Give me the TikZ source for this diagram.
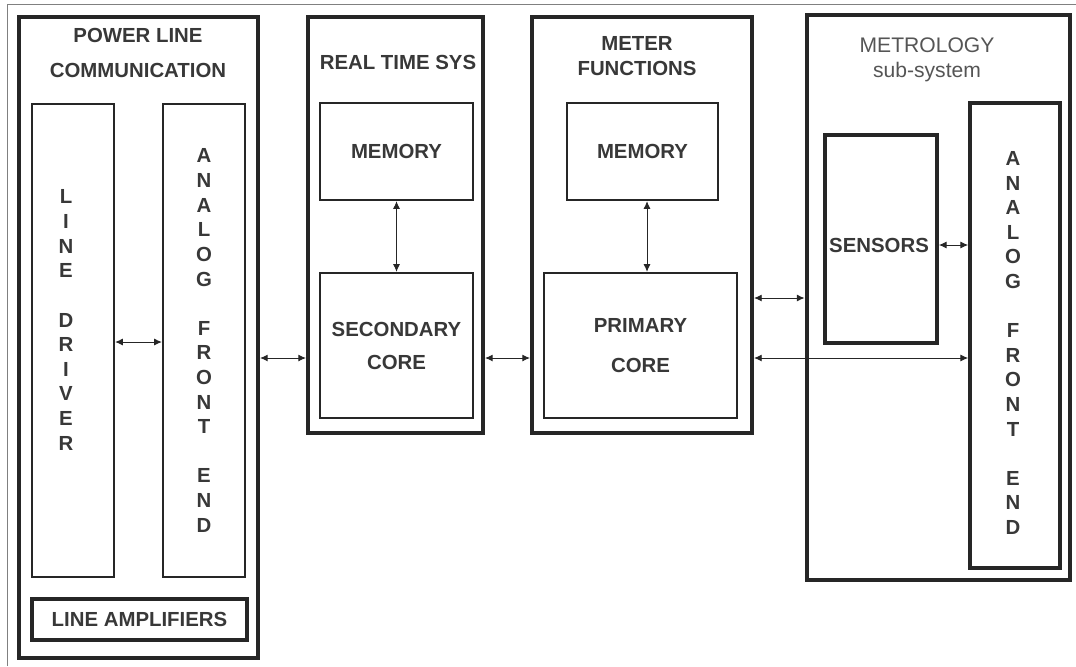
\documentclass[tikz,border=0pt]{standalone}
\usepackage{fontspec}
\setmainfont{Liberation Sans}
\usetikzlibrary{arrows.meta}
\definecolor{ink}{HTML}{262626}
\definecolor{txt}{HTML}{383838}
\definecolor{soft}{HTML}{555555}

\begin{document}
\begin{tikzpicture}[x=0.025cm, y=-0.025cm,
  blk/.style={draw=ink, inner sep=0pt, align=center, text=txt, font=\fontsize{14.5}{17.5}\selectfont\bfseries},
  outer/.style={blk, line width=2.8pt},
  inner/.style={blk, line width=1.6pt},
  heavy/.style={blk, line width=2.6pt},
  lbl/.style={text=txt, font=\fontsize{14.5}{17.5}\selectfont\bfseries, align=center, inner sep=0pt},
  link/.style={{Latex[length=5.5pt,width=5pt]}-{Latex[length=5.5pt,width=5pt]}, draw=ink, line width=0.7pt}]
\useasboundingbox (0,0) rectangle (1076,666);
\draw[gray, line width=0.7pt] (7,666) -- (7,4) -- (1076,4);

% power line communication
\node[outer, minimum width=5.975cm, minimum height=16.025cm] (plc) at (138.5,337.5) {};
\node[lbl] (plcT) at (138,53) {POWER LINE\\[7pt]COMMUNICATION};
\node[inner, minimum width=2.05cm, minimum height=11.825cm] (ld) at (73,340.5) {};
\node[lbl] (ldT) at (66,320) {L\\I\\N\\E\\ \\D\\R\\I\\V\\E\\R};
\node[inner, minimum width=2.05cm, minimum height=11.825cm] (afeA) at (204,340.5)
  {A\\N\\A\\L\\O\\G\\ \\F\\R\\O\\N\\T\\ \\E\\N\\D};
\node[heavy, minimum width=5.375cm, minimum height=1.025cm] (amp) at (139.5,619.5) {LINE AMPLIFIERS};

% real time sys
\node[outer, minimum width=4.375cm, minimum height=10.4cm] (rts) at (395.5,225) {};
\node[lbl] (rtsT) at (398,62) {REAL TIME SYS};
\node[inner, minimum width=3.825cm, minimum height=2.425cm] (memA) at (396.5,151.5) {MEMORY};
\node[inner, minimum width=3.825cm, minimum height=3.625cm] (coreA) at (396.5,345.5) {SECONDARY\\[6pt]CORE};

% meter functions
\node[outer, minimum width=5.5cm, minimum height=10.4cm] (mf) at (642,225) {};
\node[lbl] (mfT) at (637,56) {METER\\FUNCTIONS};
\node[inner, minimum width=3.775cm, minimum height=2.425cm] (memB) at (642.5,151.5) {MEMORY};
\node[inner, minimum width=4.825cm, minimum height=3.625cm] (coreB) at (640.5,345.5) {PRIMARY\\[11pt]CORE};

% metrology
\node[blk, line width=3.4pt, minimum width=6.575cm, minimum height=14.125cm] (met) at (938.5,297.5) {};
\node[lbl, text=soft, font=\fontsize{15}{18}\selectfont] (metT) at (927,60) {METROLOGY\\sub-system};
\node[heavy, minimum width=2.8cm, minimum height=5.2cm] (sens) at (881,239) {};
\node[lbl] (sensT) at (879,245) {SENSORS};
\node[heavy, minimum width=2.25cm, minimum height=11.625cm] (afeB) at (1015,335.5) {};
\node[lbl] (afeBT) at (1013,343) {A\\N\\A\\L\\O\\G\\ \\F\\R\\O\\N\\T\\ \\E\\N\\D};

% links
\coordinate (busY) at (0,358);
\coordinate (sideY) at (0,298);
\coordinate (sensY) at (0,245);
\draw[link] (ld.east |- 0,342) -- (afeA.west |- 0,342);
\draw[link] (plc.east |- busY) -- (rts.west |- busY);
\draw[link] (rts.east |- busY) -- (mf.west |- busY);
\draw[link] (mf.east |- busY) -- (afeB.west |- busY);
\draw[link] (mf.east |- sideY) -- (met.west |- sideY);
\draw[link] (sens.east |- sensY) -- (afeB.west |- sensY);
\draw[link] (memA) -- (coreA);
\draw[link] (memB.south -| 647,0) -- (coreB.north -| 647,0);
\end{tikzpicture}
\end{document}
